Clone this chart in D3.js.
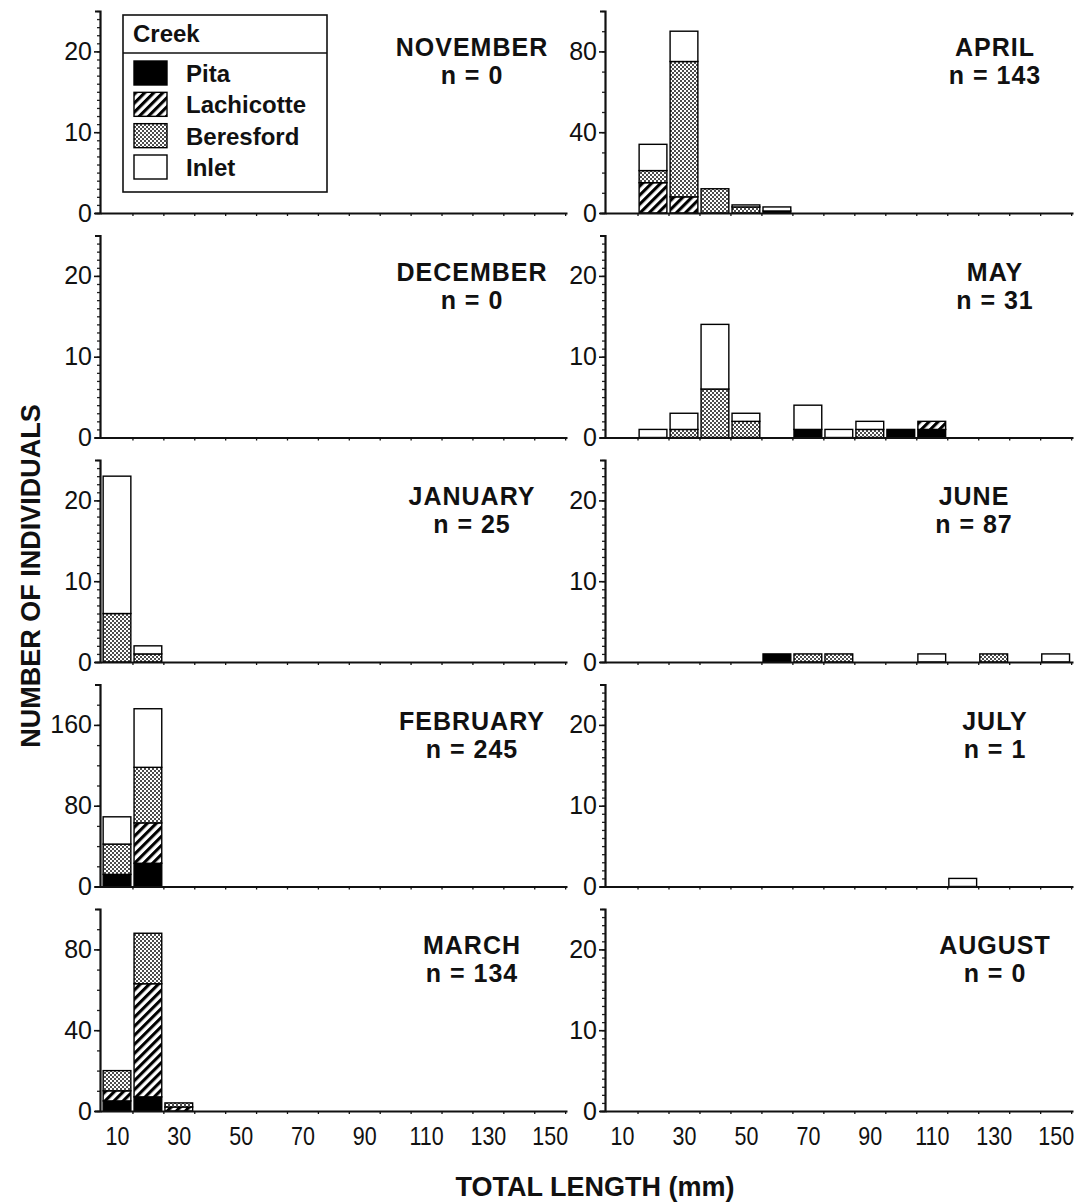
<!DOCTYPE html>
<html>
<head>
<meta charset="utf-8">
<script src="https://cdn.jsdelivr.net/npm/d3@7"></script>
<style>
  html, body { margin: 0; padding: 0; background: #fff; }
  svg { display: block; }
  text { font-family: "Liberation Sans", Arial, Helvetica, sans-serif; fill: #111; }
</style>
</head>
<body>
<script>
// Monthly length-frequency histograms by creek (10-mm length classes).
const months = ["NOVEMBER", "DECEMBER", "JANUARY", "FEBRUARY", "MARCH",
                "APRIL", "MAY", "JUNE", "JULY", "AUGUST"];
const sampleSizes = [0, 0, 25, 245, 134, 143, 31, 87, 1, 0];
const creeks = ["Pita", "Lachicotte", "Beresford", "Inlet"];
const lengthBins = [10, 20, 30, 40, 50, 60, 70, 80, 90, 100, 110, 120, 130, 140, 150];
const xTickLabels = [10, 30, 50, 70, 90, 110, 130, 150];

// y-axis maximum and labelled ticks for each month (same order as months)
const yMaxima = [25, 25, 25, 200, 100, 100, 25, 25, 25, 25];
const yTickLabels = [
  [0, 10, 20], [0, 10, 20], [0, 10, 20], [0, 80, 160], [0, 40, 80],
  [0, 40, 80], [0, 10, 20], [0, 10, 20], [0, 10, 20], [0, 10, 20]
];
const yMinorSteps = [1, 1, 1, 20, 10, 10, 1, 1, 1, 1];

// counts per length class: [class centre (mm), Pita, Lachicotte, Beresford, Inlet]
const november = [];
const december = [];
const january  = [[10, 0, 0, 6, 17], [20, 0, 0, 1, 1]];
const february = [[10, 12, 0, 30, 27], [20, 23, 40, 55, 58]];
const march    = [[10, 5, 5, 10, 0], [20, 7, 56, 25, 0], [30, 0, 2, 2, 0]];
const april    = [[20, 0, 15, 6, 13], [30, 0, 8, 67, 15], [40, 0, 0, 12, 0],
                  [50, 0, 0, 3, 1], [60, 1, 0, 0, 2]];
const may      = [[20, 0, 0, 0, 1], [30, 0, 0, 1, 2], [40, 0, 0, 6, 8], [50, 0, 0, 2, 1],
                  [70, 1, 0, 0, 3], [80, 0, 0, 0, 1], [90, 0, 0, 1, 1], [100, 1, 0, 0, 0],
                  [110, 1, 1, 0, 0]];
const june     = [[60, 1, 0, 0, 0], [70, 0, 0, 1, 0], [80, 0, 0, 1, 0], [110, 0, 0, 0, 1],
                  [130, 0, 0, 1, 0], [150, 0, 0, 0, 1]];
const july     = [[120, 0, 0, 0, 1]];
const august   = [];
const monthCounts = [november, december, january, february, march,
                     april, may, june, july, august];

// ---- layout ----
const W = 1080, H = 1202;
const columnRange = [[100, 567], [605, 1073]];
const firstBaseline = 213, rowStep = 224.5, plotH = 202;
const lengthDomain = [4.5, 155.6];
const titleX = [472, 995];
const titleShift = { JUNE: -21 };

const svg = d3.select("body").append("svg")
  .attr("width", W).attr("height", H);

// fill patterns for the four creeks
const defs = svg.append("defs");
const hatch = defs.append("pattern")
  .attr("id", "hatch").attr("patternUnits", "userSpaceOnUse")
  .attr("width", 6.4).attr("height", 6.4)
  .attr("patternTransform", "rotate(45)");
hatch.append("rect").attr("width", 6.4).attr("height", 6.4).attr("fill", "#fff");
hatch.append("rect").attr("width", 3.1).attr("height", 6.4).attr("fill", "#000");

const stipple = defs.append("pattern")
  .attr("id", "stipple").attr("patternUnits", "userSpaceOnUse")
  .attr("width", 4).attr("height", 4);
stipple.append("rect").attr("width", 4).attr("height", 4).attr("fill", "#fff");
stipple.append("circle").attr("cx", 1).attr("cy", 1).attr("r", 1.0).attr("fill", "#111");
stipple.append("circle").attr("cx", 3).attr("cy", 3).attr("r", 1.0).attr("fill", "#111");

const creekFill = d3.scaleOrdinal()
  .domain(creeks)
  .range(["#000", "url(#hatch)", "url(#stipple)", "#fff"]);

const stack = d3.stack().keys(creeks);

months.forEach((month, i) => {
  const col = i < 5 ? 0 : 1;
  const row = i % 5;
  const base = firstBaseline + row * rowStep;

  const x = d3.scaleLinear().domain(lengthDomain).range(columnRange[col]);
  const y = d3.scaleLinear().domain([0, yMaxima[i]]).range([base, base - plotH]);

  const g = svg.append("g").attr("class", "panel");

  // stacked bars
  const rows = monthCounts[i].map(r => ({
    bin: r[0], Pita: r[1], Lachicotte: r[2], Beresford: r[3], Inlet: r[4]
  }));
  const layers = stack(rows);
  layers.forEach(layer => {
    g.append("g").selectAll("rect")
      .data(layer.filter(d => d[1] > d[0]))
      .join("rect")
      .attr("x", d => x(d.data.bin - 5) + 1.6)
      .attr("width", d => x(d.data.bin + 5) - x(d.data.bin - 5) - 3.2)
      .attr("y", d => y(d[1]))
      .attr("height", d => y(d[0]) - y(d[1]))
      .attr("fill", creekFill(layer.key))
      .attr("stroke", "#000")
      .attr("stroke-width", 1.4);
  });

  // y axis: minor ticks, then labelled ticks with the axis line
  const x0 = columnRange[col][0];
  g.append("g")
    .attr("transform", `translate(${x0},0)`)
    .call(d3.axisLeft(y)
      .tickValues(d3.range(0, yMaxima[i] + 0.001, yMinorSteps[i]))
      .tickSize(3).tickSizeOuter(0).tickFormat(""))
    .call(a => a.select(".domain").remove())
    .selectAll("line").attr("stroke", "#222").attr("stroke-width", 1.3);

  const yAxis = g.append("g")
    .attr("transform", `translate(${x0},0)`)
    .call(d3.axisLeft(y)
      .tickValues(yTickLabels[i])
      .tickSize(6).tickSizeOuter(5).tickPadding(2)
      .tickFormat(d3.format("d")));
  yAxis.select(".domain").attr("stroke", "#111").attr("stroke-width", 2.2);
  yAxis.selectAll(".tick line").attr("stroke", "#111").attr("stroke-width", 1.6);
  yAxis.selectAll(".tick text")
    .attr("font-size", 25).attr("fill", "#111")
    .style("font-family", "'Liberation Sans', Arial, sans-serif");

  // x axis: small ticks at class boundaries
  const xAxis = g.append("g")
    .attr("transform", `translate(0,${base})`)
    .call(d3.axisBottom(x)
      .tickValues(d3.range(15, 156, 10))
      .tickSize(3).tickSizeOuter(0).tickFormat(""));
  xAxis.select(".domain").attr("stroke", "#111").attr("stroke-width", 2.2);
  xAxis.selectAll(".tick line").attr("stroke", "#111").attr("stroke-width", 1.3);

  // length labels under the bottom row
  if (row === 4) {
    const lab = g.append("g")
      .attr("transform", `translate(0,${base})`)
      .call(d3.axisBottom(x)
        .tickValues(xTickLabels)
        .tickSize(0).tickPadding(16)
        .tickFormat(d3.format("d")));
    lab.select(".domain").remove();
    lab.selectAll(".tick text")
      .attr("font-size", 25).attr("fill", "#111")
      .attr("transform", "scale(0.86,1)")
      .style("font-family", "'Liberation Sans', Arial, sans-serif");
  }

  // month title and sample size
  const tx = titleX[col] + (titleShift[month] || 0);
  const top = base - plotH;
  g.append("text")
    .attr("x", tx).attr("y", top + 45)
    .attr("text-anchor", "middle")
    .attr("font-size", 25).attr("font-weight", "bold")
    .attr("letter-spacing", 1)
    .text(month);
  g.append("text")
    .attr("x", tx).attr("y", top + 73)
    .attr("text-anchor", "middle")
    .attr("font-size", 25).attr("font-weight", "bold")
    .attr("letter-spacing", 1)
    .text(`n = ${sampleSizes[i]}`);
});

// legend
const legend = svg.append("g").attr("class", "legend");
legend.append("rect")
  .attr("x", 123).attr("y", 15).attr("width", 204).attr("height", 177)
  .attr("fill", "#fff").attr("stroke", "#111").attr("stroke-width", 1.6);
legend.append("line")
  .attr("x1", 123).attr("x2", 327).attr("y1", 53).attr("y2", 53)
  .attr("stroke", "#111").attr("stroke-width", 1.4);
legend.append("text")
  .attr("x", 133).attr("y", 42)
  .attr("font-size", 24).attr("font-weight", "bold")
  .text("Creek");
const legendRow = d3.scaleLinear().domain([0, 3]).range([61, 155]);
creeks.forEach((c, k) => {
  legend.append("rect")
    .attr("x", 134).attr("y", legendRow(k))
    .attr("width", 33).attr("height", 24)
    .attr("fill", creekFill(c)).attr("stroke", "#000").attr("stroke-width", 1.4);
  legend.append("text")
    .attr("x", 186).attr("y", legendRow(k) + 21)
    .attr("font-size", 24).attr("font-weight", "bold")
    .text(c);
});

// axis titles
svg.append("text")
  .attr("transform", "translate(40,576) rotate(-90)")
  .attr("text-anchor", "middle")
  .attr("font-size", 27).attr("font-weight", "bold")
  .text("NUMBER OF INDIVIDUALS");
svg.append("text")
  .attr("x", 595).attr("y", 1196)
  .attr("text-anchor", "middle")
  .attr("font-size", 27).attr("font-weight", "bold")
  .text("TOTAL LENGTH (mm)");
</script>
</body>
</html>
